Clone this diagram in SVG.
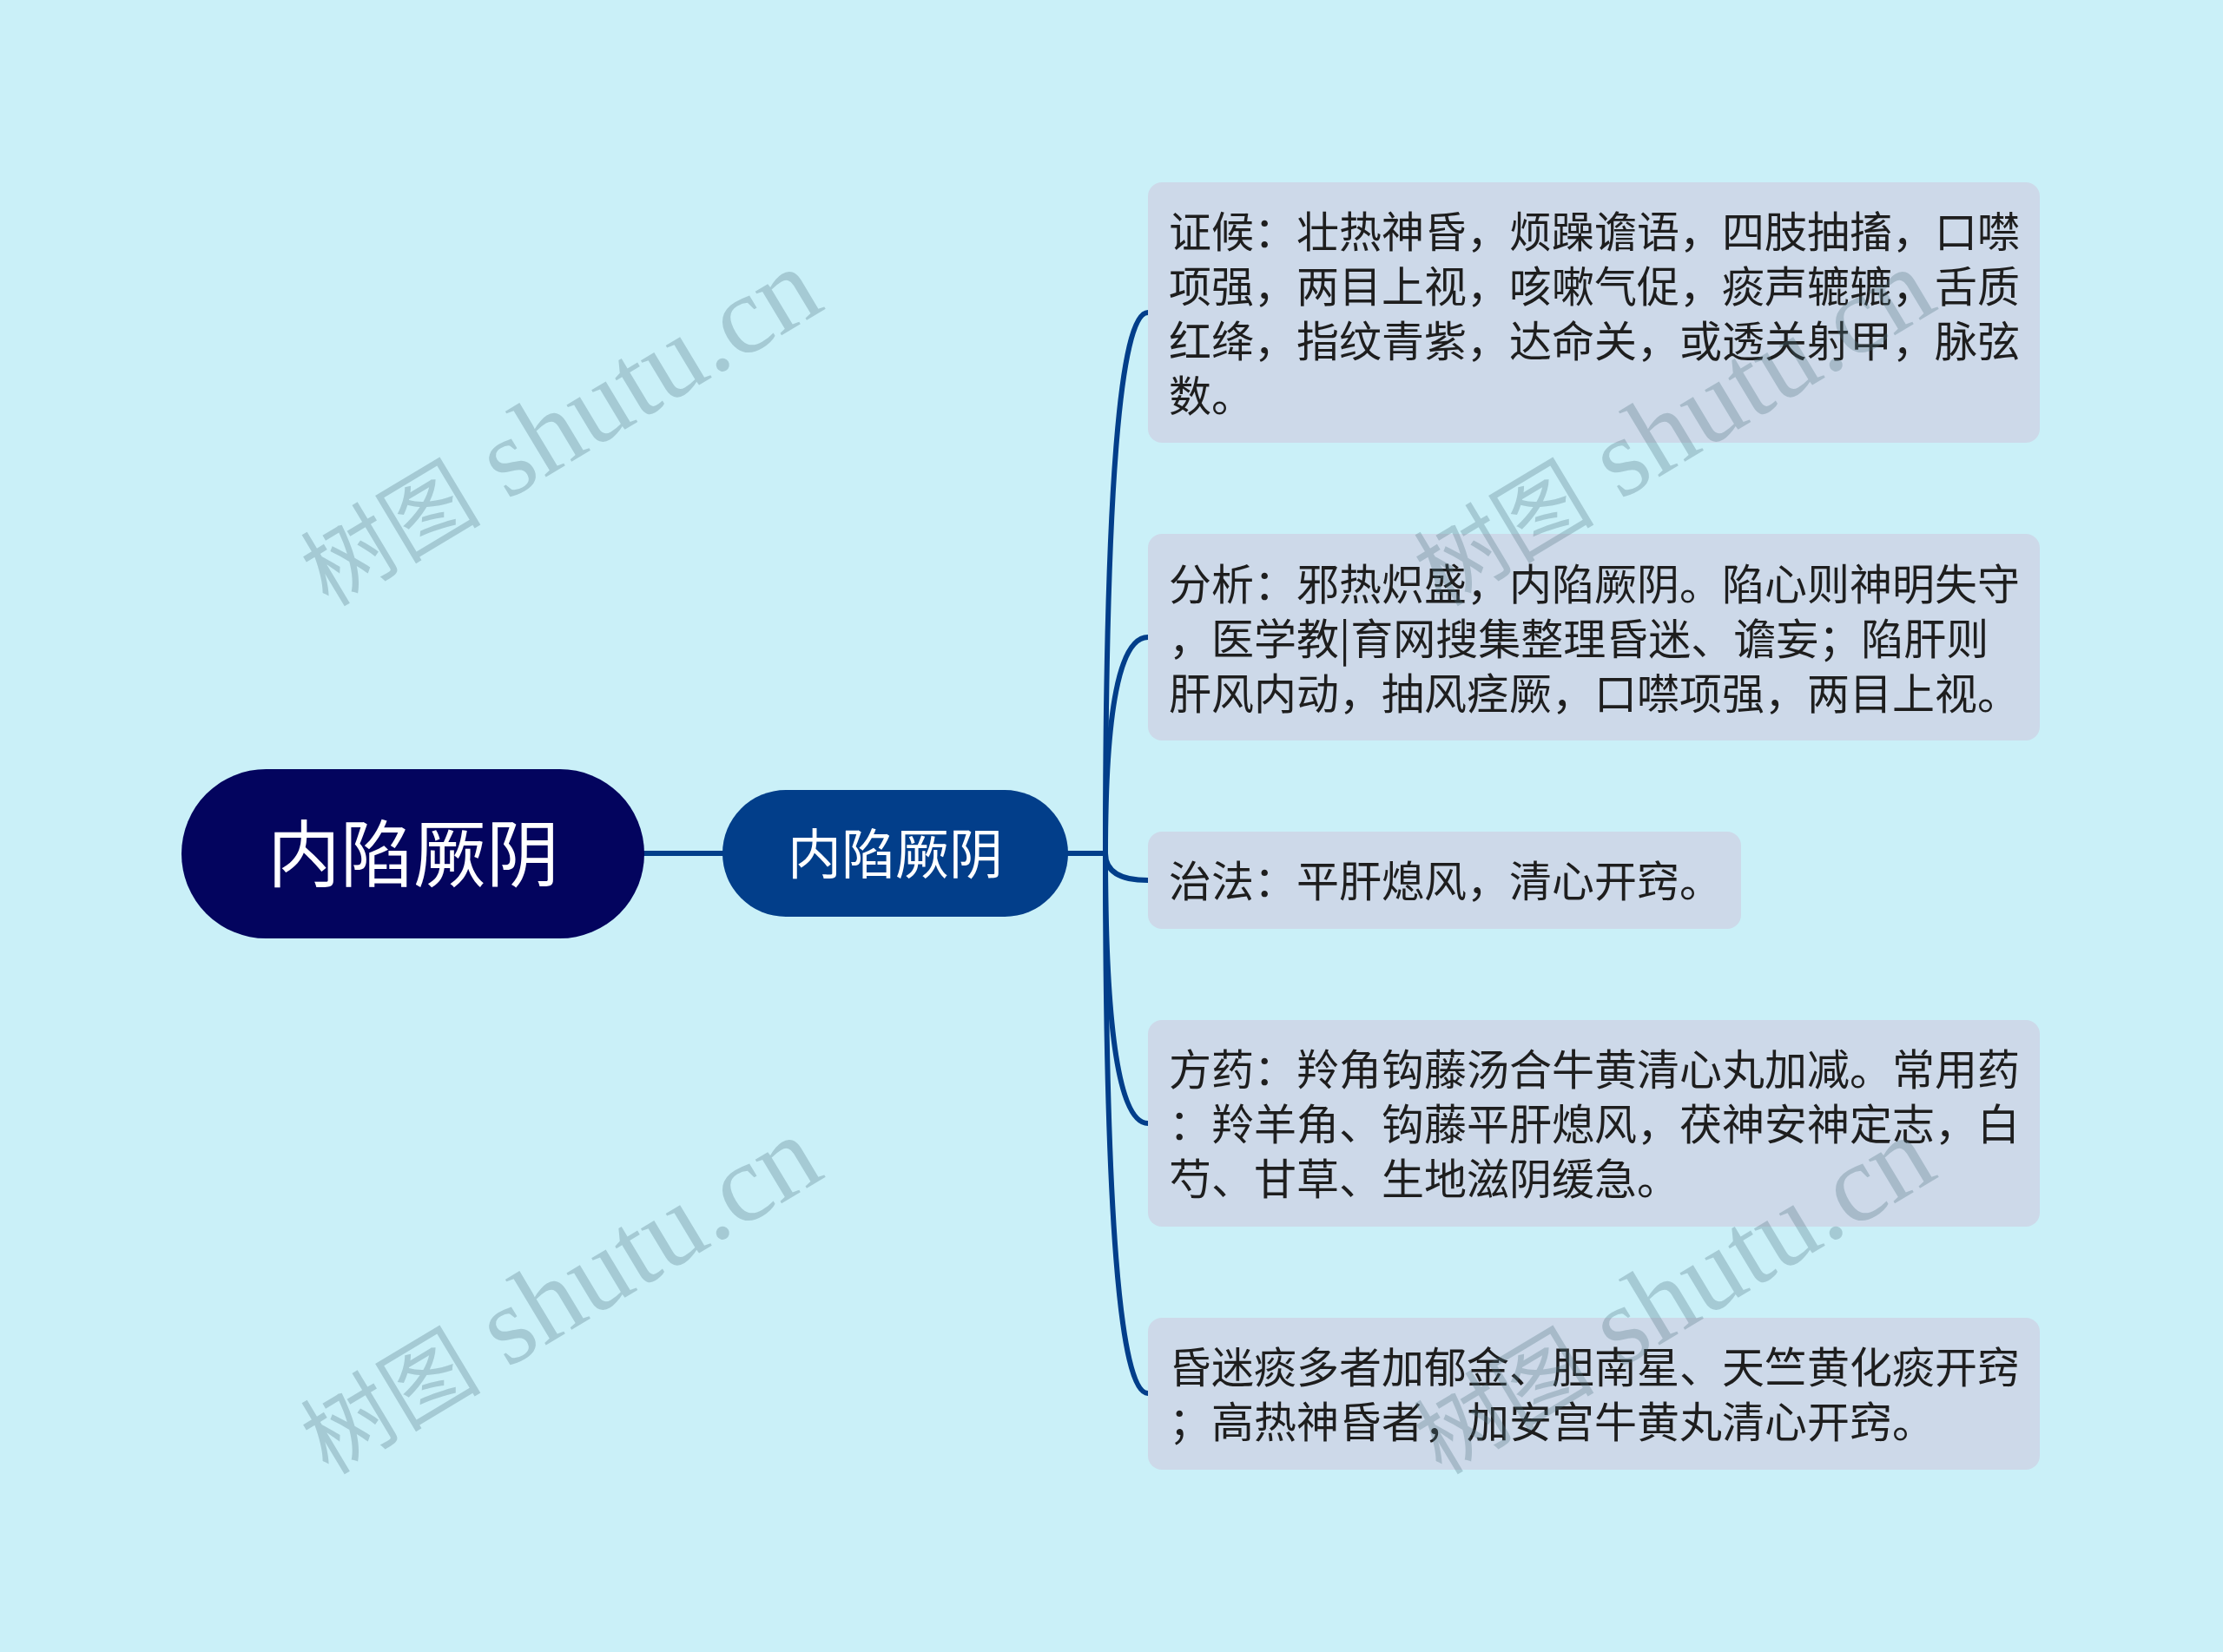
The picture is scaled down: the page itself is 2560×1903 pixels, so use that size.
<svg xmlns="http://www.w3.org/2000/svg" width="2560" height="1903" viewBox="0 0 2560 1903">
<style>
.bg{fill:#CAF0F8}
.root{fill:#03045E}
.sub{fill:#023E8A}
.leaf{fill:#CDD9E9}
.rt{font-family:"Noto Sans CJK SC","Noto Sans",sans-serif;fill:#FFFFFF;text-anchor:middle}
.lt{font-family:"Noto Sans CJK SC","Noto Sans",sans-serif;font-size:49px;fill:#1E1E1E}
.conn{fill:none;stroke:#023E8A;stroke-width:6;stroke-linecap:round}
.wm{font-family:"Liberation Serif","Noto Sans CJK SC",serif;font-size:128px;fill:#4F7480;fill-opacity:0.3}
.wmc{font-size:104px}
</style>
<rect class="bg" x="0" y="0" width="2560" height="1903"/>
<g id="connectors">
<path class="conn" d="M741 983 H832"/>
<path class="conn" d="M1229 983 H1273 Q1273 360 1322 360"/>
<path class="conn" d="M1229 983 H1273 Q1273 734 1322 734"/>
<path class="conn" d="M1229 983 H1273 Q1273 1014 1322 1014"/>
<path class="conn" d="M1229 983 H1273 Q1273 1294 1322 1294"/>
<path class="conn" d="M1229 983 H1273 Q1273 1605 1322 1605"/>
</g>
<g id="root">
<rect class="root" x="209" y="886" width="533" height="195" rx="97.5"/>
<text class="rt" x="476" y="1015" font-size="84">内陷厥阴</text>
</g>
<g id="sub">
<rect class="sub" x="832" y="910" width="398" height="146" rx="73"/>
<text class="rt" x="1031" y="1007" font-size="62">内陷厥阴</text>
</g>
<g id="leaf1">
<rect class="leaf" x="1322" y="210" width="1027" height="300" rx="16"/>
<text class="lt" x="1346" y="285">证候：壮热神昏，烦躁谵语，四肢抽搐，口噤</text>
<text class="lt" x="1346" y="348">项强，两目上视，咳嗽气促，痰声辘辘，舌质</text>
<text class="lt" x="1346" y="411">红绛，指纹青紫，达命关，或透关射甲，脉弦</text>
<text class="lt" x="1346" y="474">数。</text>
</g>
<g id="leaf2">
<rect class="leaf" x="1322" y="615" width="1027" height="238" rx="16"/>
<text class="lt" x="1346" y="691">分析：邪热炽盛，内陷厥阴。陷心则神明失守</text>
<text class="lt" x="1346" y="754">，医学教|育网搜集整理昏迷、谵妄；陷肝则</text>
<text class="lt" x="1346" y="817">肝风内动，抽风痉厥，口噤项强，两目上视。</text>
</g>
<g id="leaf3">
<rect class="leaf" x="1322" y="958" width="683" height="112" rx="16"/>
<text class="lt" x="1346" y="1033">治法：平肝熄风，清心开窍。</text>
</g>
<g id="leaf4">
<rect class="leaf" x="1322" y="1175" width="1027" height="238" rx="16"/>
<text class="lt" x="1346" y="1250">方药：羚角钩藤汤合牛黄清心丸加减。常用药</text>
<text class="lt" x="1346" y="1313">：羚羊角、钩藤平肝熄风，茯神安神定志，白</text>
<text class="lt" x="1346" y="1376">芍、甘草、生地滋阴缓急。</text>
</g>
<g id="leaf5">
<rect class="leaf" x="1322" y="1518" width="1027" height="175" rx="16"/>
<text class="lt" x="1346" y="1593">昏迷痰多者加郁金、胆南星、天竺黄化痰开窍</text>
<text class="lt" x="1346" y="1656">；高热神昏者，加安宫牛黄丸清心开窍。</text>
</g>
<g id="watermarks">
<text class="wm" transform="translate(378,700) rotate(-31)"><tspan class="wmc">树图</tspan> shutu.cn</text>
<text class="wm" transform="translate(1660,700) rotate(-31)"><tspan class="wmc">树图</tspan> shutu.cn</text>
<text class="wm" transform="translate(378,1700) rotate(-31)"><tspan class="wmc">树图</tspan> shutu.cn</text>
<text class="wm" transform="translate(1660,1700) rotate(-31)"><tspan class="wmc">树图</tspan> shutu.cn</text>
</g>
</svg>
